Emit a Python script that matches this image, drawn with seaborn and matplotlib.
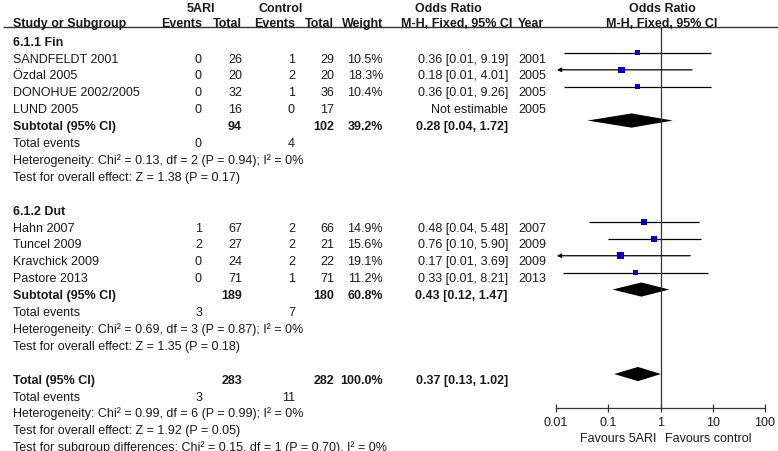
import numpy as np
import pandas as pd
import matplotlib.pyplot as plt
import seaborn as sns

sns.set_style("white")
plt.rcParams['font.family'] = ['Liberation Sans', 'DejaVu Sans']

# study level data
studies = ["SANDFELDT 2001", "Özdal 2005", "DONOHUE 2002/2005", "LUND 2005",
           "Hahn 2007", "Tuncel 2009", "Kravchick 2009", "Pastore 2013"]
group = [0, 0, 0, 0, 1, 1, 1, 1]
ev_5ari = [0, 0, 0, 0, 1, 2, 0, 0]
n_5ari = [26, 20, 32, 16, 67, 27, 24, 71]
ev_ctrl = [1, 2, 1, 0, 2, 2, 2, 1]
n_ctrl = [29, 20, 36, 17, 66, 21, 22, 71]
weight = [10.5, 18.3, 10.4, np.nan, 14.9, 15.6, 19.1, 11.2]
odds = [0.36, 0.18, 0.36, np.nan, 0.48, 0.76, 0.17, 0.33]
ci_lo = [0.014, 0.008, 0.0145, np.nan, 0.043, 0.10, 0.008, 0.0136]
ci_hi = [9.19, 4.01, 9.26, np.nan, 5.48, 5.90, 3.69, 8.21]
years = [2001, 2005, 2005, 2005, 2007, 2009, 2009, 2013]

# subgroups
sub_names = ["6.1.1 Fin", "6.1.2 Dut"]
sub_ev5 = [0, 3]
sub_evc = [4, 7]
sub_n5 = [94, 189]
sub_nc = [102, 180]
sub_w = [39.2, 60.8]
sub_or = [0.28, 0.43]
sub_lo = [0.04, 0.12]
sub_hi = [1.72, 1.47]
sub_het = ["Chi² = 0.13, df = 2 (P = 0.94); I² = 0%",
           "Chi² = 0.69, df = 3 (P = 0.87); I² = 0%"]
sub_z = ["Z = 1.38 (P = 0.17)", "Z = 1.35 (P = 0.18)"]

# overall
tot_ev5, tot_evc = 3, 11
tot_n5, tot_nc = 283, 282
tot_w = 100.0
tot_or, tot_lo, tot_hi = 0.37, 0.13, 1.02
tot_het = "Chi² = 0.99, df = 6 (P = 0.99); I² = 0%"
tot_z = "Z = 1.92 (P = 0.05)"
sub_diff = "Chi² = 0.15, df = 1 (P = 0.70), I² = 0%"

ticks = [0.01, 0.1, 1, 10, 100]
tick_labels = ["0.01", "0.1", "1", "10", "100"]

df = pd.DataFrame(dict(study=studies, group=group, e1=ev_5ari, n1=n_5ari, e2=ev_ctrl,
                       n2=n_ctrl, w=weight, orr=odds, lo=ci_lo, hi=ci_hi, year=years))

# layout: rows of 16.9 px, row 0 at 41.1 px
W, H = 778, 452
y0, dy = 41.1, 16.9
def row(px):
    return (px - y0) / dy

fig = plt.figure(figsize=(W / 100, H / 100), dpi=100)
ax = fig.add_axes([0, 0, 1, 1])
ax.set_xlim(0, W)
ax.set_ylim(row(H), row(0))
ax.axis('off')

fx = fig.add_axes([556 / W, 0, 209 / W, 1])
fx.set_xscale('log')
fx.set_xlim(0.01, 100)
fx.set_ylim(row(H), row(0))
fx.patch.set_alpha(0)

FS = 9
TC = '#1a1a1a'
BL = 0.27  # baseline offset
DH = 0.42  # diamond half height

def txt(x, r, s, ha='right', bold=False):
    ax.text(x, r + BL, s, ha=ha, va='baseline', fontsize=FS, color=TC,
            fontweight='bold' if bold else 'normal')

# header
for x, s in [(201, "5ARI"), (281, "Control"), (448, "Odds Ratio"), (662, "Odds Ratio")]:
    ax.text(x, row(7) + BL, s, ha='center', va='baseline', fontsize=FS, color=TC, fontweight='bold')
hr = row(22)
txt(13, hr, "Study or Subgroup", ha='left', bold=True)
txt(202, hr, "Events", bold=True)
txt(242, hr, "Total", bold=True)
txt(295, hr, "Events", bold=True)
txt(334, hr, "Total", bold=True)
txt(383, hr, "Weight", bold=True)
txt(512, hr, "M-H, Fixed, 95% CI", bold=True)
txt(518, hr, "Year", ha='left', bold=True)
ax.text(662, hr + BL, "M-H, Fixed, 95% CI", ha='center', va='baseline', fontsize=FS,
        color=TC, fontweight='bold')
ax.hlines(row(28), 3, W, color='#333333', lw=1.0)

MS = -0.24  # marker shift relative to text row
rows_study = []
r = 0
for g in range(2):
    txt(13, r, sub_names[g], ha='left', bold=True)
    r += 1
    for _, s in df[df.group == g].iterrows():
        txt(13, r, s.study, ha='left')
        txt(202, r, str(s.e1)); txt(242, r, str(s.n1))
        txt(295, r, str(s.e2)); txt(334, r, str(s.n2))
        if np.isnan(s.orr):
            txt(508, r, "Not estimable")
        else:
            txt(383, r, f"{s.w:.1f}%")
            txt(508, r, f"{s.orr:.2f} [{s.lo:.2f}, {s.hi:.2f}]")
        txt(518, r, str(s.year), ha='left')
        rows_study.append(r)
        r += 1
    txt(13, r, "Subtotal (95% CI)", ha='left', bold=True)
    txt(242, r, str(sub_n5[g]), bold=True)
    txt(334, r, str(sub_nc[g]), bold=True)
    txt(383, r, f"{sub_w[g]:.1f}%", bold=True)
    txt(508, r, f"{sub_or[g]:.2f} [{sub_lo[g]:.2f}, {sub_hi[g]:.2f}]", bold=True)
    c, lo, hi, yy = sub_or[g], sub_lo[g], sub_hi[g], r + MS
    fx.fill([lo, c, hi, c], [yy, yy - DH, yy, yy + DH], color='black', lw=0)
    r += 1
    txt(13, r, "Total events", ha='left')
    txt(202, r, str(sub_ev5[g])); txt(295, r, str(sub_evc[g]))
    r += 1
    txt(13, r, "Heterogeneity: " + sub_het[g], ha='left')
    r += 1
    txt(13, r, "Test for overall effect: " + sub_z[g], ha='left')
    r += 2

txt(13, r, "Total (95% CI)", ha='left', bold=True)
txt(242, r, str(tot_n5), bold=True)
txt(334, r, str(tot_nc), bold=True)
txt(383, r, f"{tot_w:.1f}%", bold=True)
txt(508, r, f"{tot_or:.2f} [{tot_lo:.2f}, {tot_hi:.2f}]", bold=True)
yy = r + MS
fx.fill([tot_lo, tot_or, tot_hi, tot_or], [yy, yy - DH, yy, yy + DH], color='black', lw=0)
txt(13, r + 1, "Total events", ha='left')
txt(202, r + 1, str(tot_ev5)); txt(295, r + 1, str(tot_evc))
txt(13, r + 2, "Heterogeneity: " + tot_het, ha='left')
txt(13, r + 3, "Test for overall effect: " + tot_z, ha='left')
txt(13, r + 4, "Test for subgroup differences: " + sub_diff, ha='left')

# study CIs and squares
df['row'] = np.array(rows_study) + MS
est = df.dropna(subset=['orr'])
for _, s in est.iterrows():
    if s.lo < ticks[0]:
        fx.annotate("", xy=(0.0104, s.row), xytext=(s.hi, s.row),
                    arrowprops=dict(arrowstyle='-|>', lw=0.9, color='black',
                                    mutation_scale=6, shrinkA=0, shrinkB=0))
    else:
        fx.hlines(s.row, s.lo, s.hi, color='black', lw=0.9)
sns.scatterplot(data=est, x='orr', y='row', size='w', sizes=(13, 24), size_norm=(10.4, 19.1),
                marker='s', color='#0000c0', linewidth=0, legend=False, ax=fx, zorder=3)

# axis
axis_r = row(409)
fx.vlines(1, row(28), axis_r, color='#333333', lw=0.9)
for sp in ['top', 'right', 'left']:
    fx.spines[sp].set_visible(False)
fx.spines['bottom'].set_position(('data', axis_r))
fx.spines['bottom'].set_color('#333333')
fx.spines['bottom'].set_linewidth(0.9)
fx.set_xticks(ticks, tick_labels)
fx.minorticks_off()
fx.tick_params(axis='x', direction='inout', length=6, width=0.9, color='#333333',
               labelsize=FS, labelcolor=TC, pad=2.5, bottom=True)
fx.set_yticks([])
fx.set_xlabel("")
fx.set_ylabel("")
fx.text(0.82, row(437) + BL, "Favours 5ARI", ha='right', va='baseline', fontsize=FS, color=TC)
fx.text(1.2, row(437) + BL, "Favours control", ha='left', va='baseline', fontsize=FS, color=TC)

fig.savefig("out.png", dpi=100)
